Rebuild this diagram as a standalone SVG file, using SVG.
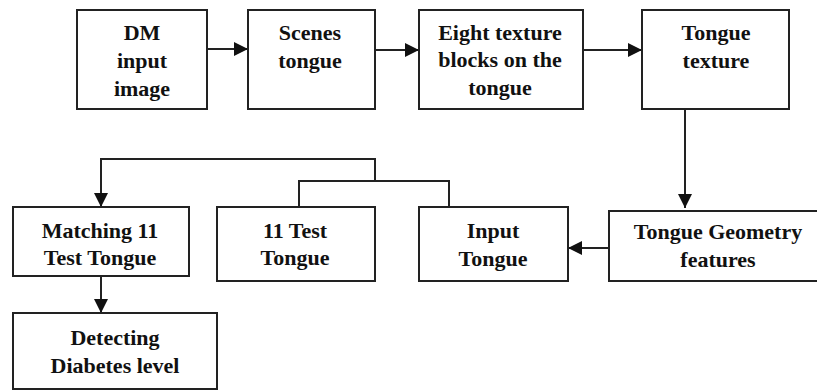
<svg xmlns="http://www.w3.org/2000/svg" width="817" height="390" viewBox="0 0 817 390">
<defs>
<marker id="ah" viewBox="0 0 14 14" markerWidth="14" markerHeight="14" refX="14" refY="7" orient="auto" markerUnits="userSpaceOnUse">
<path d="M0,0 L14,7 L0,14 z" fill="#111"/>
</marker>
<style>
.box{fill:#fff;stroke:#222;stroke-width:2}
.t{font-family:'Liberation Serif','Times New Roman',serif;font-weight:700;font-size:22px;fill:#111;text-anchor:middle}
.c{fill:none;stroke:#222;stroke-width:2}
.a{marker-end:url(#ah)}
</style>
</defs>
<rect width="817" height="390" fill="#fff"/>
<g id="connectors">
<line class="c a" x1="207" y1="49" x2="248" y2="49"/>
<line class="c a" x1="375" y1="50" x2="419" y2="50"/>
<line class="c a" x1="583" y1="50" x2="642" y2="50"/>
<line class="c a" x1="685" y1="109" x2="685" y2="208"/>
<line class="c a" x1="609" y1="248" x2="568" y2="248"/>
<polyline class="c" points="449,207 449,181 299,181 299,207"/>
<polyline class="c a" points="375,181 375,159 101,159 101,207"/>
<line class="c a" x1="101" y1="276" x2="101" y2="313"/>
</g>
<g id="dm-input">
<rect class="box" x="77" y="10" width="130" height="99"/>
<text class="t" x="142" y="40">DM</text>
<text class="t" x="142" y="68">input</text>
<text class="t" x="142" y="96">image</text>
</g>
<g id="scenes">
<rect class="box" x="248" y="10" width="127" height="99"/>
<text class="t" x="310" y="40">Scenes</text>
<text class="t" x="310" y="68">tongue</text>
</g>
<g id="eight-blocks">
<rect class="box" x="419" y="10" width="164" height="99"/>
<text class="t" x="500" y="40">Eight texture</text>
<text class="t" x="500" y="67">blocks on the</text>
<text class="t" x="500" y="95">tongue</text>
</g>
<g id="tongue-texture">
<rect class="box" x="642" y="10" width="147" height="99"/>
<text class="t" x="716" y="40">Tongue</text>
<text class="t" x="716" y="68">texture</text>
</g>
<g id="geometry">
<rect class="box" x="609" y="211" width="220" height="70"/>
<text class="t" x="718" y="239">Tongue Geometry</text>
<text class="t" x="718" y="267">features</text>
</g>
<g id="input-tongue">
<rect class="box" x="419" y="207" width="149" height="74"/>
<text class="t" x="493" y="238">Input</text>
<text class="t" x="493" y="266">Tongue</text>
</g>
<g id="test-tongue">
<rect class="box" x="217" y="207" width="158" height="74"/>
<text class="t" x="295" y="238">11 Test</text>
<text class="t" x="295" y="265">Tongue</text>
</g>
<g id="matching">
<rect class="box" x="13" y="207" width="176" height="69"/>
<text class="t" x="100" y="238">Matching 11</text>
<text class="t" x="100" y="265">Test Tongue</text>
</g>
<g id="detecting">
<rect class="box" x="13" y="313" width="204" height="76"/>
<text class="t" x="115" y="345">Detecting</text>
<text class="t" x="115" y="373">Diabetes level</text>
</g>
</svg>
